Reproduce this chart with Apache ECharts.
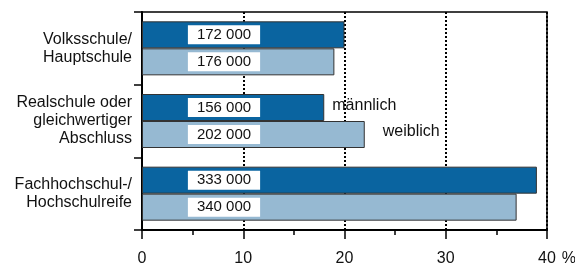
<!DOCTYPE html>
<html>
<head>
<meta charset="utf-8">
<script src="https://cdn.jsdelivr.net/npm/echarts@6/dist/echarts.min.js"></script>
<style>
  html, body { margin: 0; padding: 0; background: #fff; }
  #chart { width: 575px; height: 265px; }
</style>
</head>
<body>
<div id="chart"></div>
<script>
  // Kategorien (von oben nach unten)
  var categories = ['Volksschule/\nHauptschule', 'Realschule oder\ngleichwertiger\nAbschluss', 'Fachhochschul-/\nHochschulreife']
  // Anteile in %
  var maleShare = [20, 18, 39]
  var femaleShare = [19, 22, 37]
  // absolute Zahlen (Beschriftung)
  var maleCount = ['172 000', '156 000', '333 000']
  var femaleCount = ['176 000', '202 000', '340 000']

  var font = 'Liberation Sans, Arial, sans-serif'

  var valueLabel = function (counts) {
    return {
      show: true,
      position: [82, '50%'],
      align: 'center',
      verticalAlign: 'middle',
      formatter: function (p) { return counts[p.dataIndex] },
      backgroundColor: '#fff',
      padding: [2, 9, 2, 9],
      color: '#111',
      fontFamily: font,
      fontSize: 15,
      lineHeight: 15
    }
  }

  var chart = echarts.init(document.getElementById('chart'))
  chart.setOption({
    animation: false,
    grid: {
      left: 142, right: 28, top: 12, bottom: 35,
      outerBoundsMode: 'none', containLabel: false,
      show: true, borderColor: '#000', borderWidth: 1.5
    },
    xAxis: {
      type: 'value',
      min: 0,
      max: 40,
      interval: 10,
      name: '%',
      nameLocation: 'end',
      nameGap: 9,
      nameTextStyle: { color: '#111', fontFamily: font, fontSize: 16, verticalAlign: 'top', padding: [21, 0, 0, 0] },
      axisLine: { show: true, lineStyle: { color: '#000', width: 2 } },
      axisTick: { show: true, length: 9, lineStyle: { color: '#000', width: 1.5 } },
      minorTick: { show: true, splitNumber: 2, length: 5, lineStyle: { color: '#000', width: 1.5 } },
      splitLine: { show: true, lineStyle: { color: '#000', type: [2, 2], width: 2 } },
      axisLabel: { color: '#111', fontFamily: font, fontSize: 16, margin: 21 }
    },
    yAxis: {
      type: 'category',
      inverse: true,
      data: categories,
      axisLine: { show: true, lineStyle: { color: '#000', width: 2 } },
      axisTick: { show: true, length: 8, lineStyle: { color: '#000', width: 1.5 } },
      axisLabel: { color: '#111', fontFamily: font, fontSize: 16, lineHeight: 18, margin: 10, align: 'right' }
    },
    series: [
      {
        name: 'männlich',
        type: 'bar',
        barWidth: 27,
        barGap: '0%',
        data: maleShare,
        itemStyle: { color: '#0a64a0', borderColor: '#333', borderWidth: 1 },
        label: valueLabel(maleCount),
        markPoint: {
          symbolSize: 0,
          data: [{ coord: [maleShare[1], categories[1]] }],
          label: {
            show: true, formatter: 'männlich', position: 'right', distance: 0, offset: [8, -2],
            color: '#111', fontFamily: font, fontSize: 16
          }
        }
      },
      {
        name: 'weiblich',
        type: 'bar',
        barWidth: 27,
        data: femaleShare,
        itemStyle: { color: '#96b9d2', borderColor: '#333', borderWidth: 1 },
        label: valueLabel(femaleCount),
        markPoint: {
          symbolSize: 0,
          data: [{ coord: [femaleShare[1], categories[1]] }],
          label: {
            show: true, formatter: 'weiblich', position: 'right', distance: 0, offset: [18, -3],
            color: '#111', fontFamily: font, fontSize: 16
          }
        }
      }
    ]
  })
</script>
</body>
</html>
